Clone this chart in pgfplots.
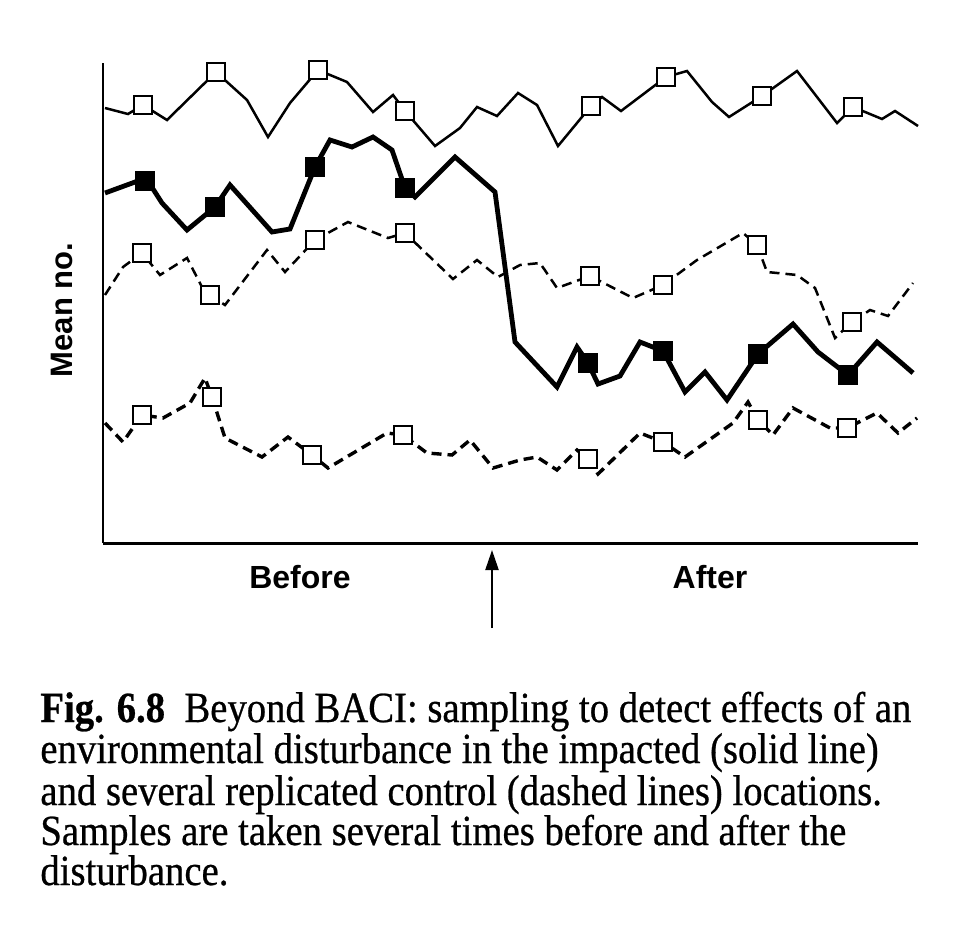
\documentclass[border=0pt]{standalone}
\usepackage{fontspec}
\setmainfont{Liberation Serif}
\setsansfont{Liberation Sans}
\newfontfamily\capfont{Liberation Serif}[FakeStretch=0.9, FakeBold=0.6]
\usepackage{pgfplots}
\pgfplotsset{compat=1.18}
\usetikzlibrary{arrows.meta}

\begin{document}
\begin{tikzpicture}
\begin{axis}[
 scale only axis, width=407.5pt, height=240pt,
 xmin=103, xmax=918, ymin=0, ymax=480,
 axis lines=left, axis line style={-, line width=1.1pt, black},
 x axis line style={line width=1.5pt},
 ticks=none, clip=false,
]
% top control (thin solid)
\addplot[black, line width=1.25pt, no marks] coordinates {
(105,435)(128,429)(143,438)(167,423)(216,471)(247,443)(268,406)(290,440)(318,473)(347,461)(373,431)(393,448)(405,432)(435,397)(460,415)(477,436)(497,427)(518,450)(537,438)(558,397)(591,437)(602,446)(621,432)(666,466)(687,472)(712,441)(729,426)(762,447)(797,472)(837,420)(853,436)(882,424)(895,432)(918,417)};
\addplot[only marks, mark=square*, mark size=4.5pt, mark options={fill=white, draw=black, line width=1.3pt}] coordinates {
(143,438)(216,471)(318,473)(405,432)(591,437)(666,466)(762,447)(853,436)};
% impacted (thick solid)
\addplot[black, line width=2.4pt, no marks] coordinates {
(105,350)(146,365)(162,340)(187,313)(215,336)(230,358)(272,311)(290,314)(315,376)(330,403)(352,396)(373,406)(392,393)(405,355)(415,346)(455,386)(495,351)(515,201)(557,156)(577,196)(588,180)(598,159)(620,167)(640,201)(663,192)(685,151)(705,171)(727,143)(758,189)(793,219)(818,191)(848,168)(877,201)(898,183)(913,170)};
\addplot[only marks, mark=square*, mark size=4.6pt, mark options={fill=black, draw=black}] coordinates {
(145,362)(215,336)(315,376)(405,355)(588,180)(663,192)(758,189)(848,168)};
% upper control (thin dashed)
\addplot[black, line width=1.25pt, dash pattern=on 5pt off 3pt, no marks] coordinates {
(105,248)(123,276)(142,290)(160,268)(187,285)(202,256)(210,248)(225,238)(267,293)(285,271)(315,303)(348,321)(388,305)(405,310)(453,264)(477,283)(498,266)(520,278)(540,280)(557,255)(590,267)(633,245)(663,258)(697,283)(743,310)(757,298)(767,271)(797,268)(815,255)(835,205)(852,221)(870,233)(888,227)(913,260)};
\addplot[only marks, mark=square*, mark size=4.5pt, mark options={solid, fill=white, draw=black, line width=1.3pt}] coordinates {
(142,290)(210,248)(315,303)(405,310)(590,267)(663,258)(757,298)(852,221)};
% lower control (thicker dashed)
\addplot[black, line width=1.7pt, dash pattern=on 5pt off 3pt, no marks] coordinates {
(105,120)(123,101)(142,128)(163,125)(190,140)(205,165)(212,146)(225,105)(262,86)(288,106)(312,88)(328,75)(387,110)(403,108)(427,90)(452,88)(470,103)(493,75)(520,83)(537,86)(557,73)(577,93)(588,84)(598,69)(640,110)(663,101)(685,86)(733,120)(748,141)(758,123)(773,108)(793,135)(830,115)(847,115)(877,130)(898,110)(917,125)};
\addplot[only marks, mark=square*, mark size=4.5pt, mark options={solid, fill=white, draw=black, line width=1.3pt}] coordinates {
(142,128)(212,146)(312,88)(403,108)(588,84)(663,101)(758,123)(847,115)};

\node[font=\sffamily\bfseries\fontsize{16}{19}\selectfont] at (axis cs:300,-34) {Before};
\node[font=\sffamily\bfseries\fontsize{16}{19}\selectfont] at (axis cs:710,-34) {After};
\node[font=\sffamily\bfseries\fontsize{15.5}{19}\selectfont, rotate=90] at (axis cs:62,233) {Mean no.};
\draw[line width=1.1pt, -{Triangle[length=10pt,width=6.5pt]}] (axis cs:492,-85) -- (axis cs:492,-7);

\begin{scope}[every node/.style={anchor=base west, inner sep=0pt, font=\capfont\fontsize{21.5}{23}\selectfont}]
\node at (axis cs:40,-179) {\textbf{Fig. 6.8}\hspace{0.45em}Beyond BACI: sampling to detect effects of an};
\node at (axis cs:40,-220) {environmental disturbance in the impacted (solid line)};
\node at (axis cs:40,-262) {and several replicated control (dashed lines) locations.};
\node at (axis cs:40,-302) {Samples are taken several times before and after the};
\node at (axis cs:40,-342) {disturbance.};
\end{scope}
\coordinate (tl) at (axis cs:0,543);
\coordinate (br) at (axis cs:977,-395);
\end{axis}
\path[use as bounding box] (tl) rectangle (br);
\end{tikzpicture}
\end{document}
